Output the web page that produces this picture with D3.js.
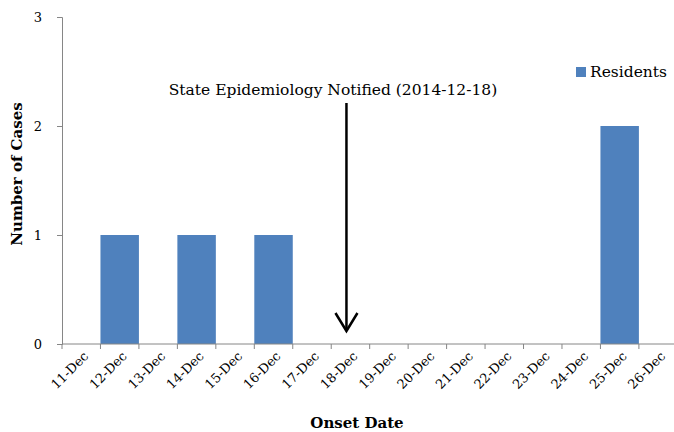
<!DOCTYPE html>
<html>
<head>
<meta charset="utf-8">
<script src="https://cdn.jsdelivr.net/npm/d3@7"></script>
<style>
  body { margin: 0; background: #fff; }
  svg { display: block; }
  svg text { font-family: "DejaVu Serif", serif; }
</style>
</head>
<body>
<div id="chart"></div>
<script>
// data
var dates = ["11-Dec", "12-Dec", "13-Dec", "14-Dec", "15-Dec", "16-Dec", "17-Dec", "18-Dec",
             "19-Dec", "20-Dec", "21-Dec", "22-Dec", "23-Dec", "24-Dec", "25-Dec", "26-Dec"];
var residents = [0, 1, 0, 1, 0, 1, 0, 0, 0, 0, 0, 0, 0, 0, 2, 0];
var yTicks = [0, 1, 2, 3];
var notifiedDate = "18-Dec";
var notifiedLabel = "State Epidemiology Notified (2014-12-18)";

var width = 674, height = 432;
var plotLeft = 62, plotTop = 17, plotBottom = 344;
var step = 38.46;

var svg = d3.select("#chart").append("svg")
            .attr("width", width)
            .attr("height", height);

var x = d3.scaleBand()
          .domain(dates)
          .range([plotLeft, plotLeft + step * dates.length])
          .padding(0);

var y = d3.scaleLinear()
          .domain([0, 3])
          .range([plotBottom, plotTop]);

// bars
svg.append("g").selectAll("rect")
   .data(dates)
   .enter()
      .append("rect")
      .attr("x", function(d) { return x(d); })
      .attr("width", x.bandwidth())
      .attr("y", function(d, i) { return y(residents[i]); })
      .attr("height", function(d, i) { return y(0) - y(residents[i]); })
      .style("fill", "#4F81BD");

// y axis
var yAxis = svg.append("g")
   .attr("transform", "translate(" + plotLeft + ",0)")
   .call(d3.axisLeft(y).tickValues(yTicks).tickFormat(d3.format("d")).tickSize(5).tickPadding(15));
yAxis.select(".domain").attr("stroke", "#868686");
yAxis.selectAll(".tick line").attr("stroke", "#868686");
yAxis.selectAll("text").style("font-size", "13px").attr("fill", "#000");

// x axis: labels at band centres, ticks at band edges
var xAxis = svg.append("g")
   .attr("transform", "translate(0," + plotBottom + ")")
   .call(d3.axisBottom(x).tickSize(0).tickSizeOuter(0));
xAxis.select(".domain").remove();
xAxis.selectAll("text")
     .style("font-size", "13px")
     .attr("fill", "#000")
     .attr("text-anchor", "end")
     .attr("y", 0)
     .attr("dy", 0)
     .attr("transform", "translate(8,13) rotate(-45)");

svg.append("line")
   .attr("x1", plotLeft).attr("x2", width)
   .attr("y1", plotBottom).attr("y2", plotBottom)
   .attr("stroke", "#868686");

svg.append("g").selectAll("line")
   .data(dates)
   .enter()
      .append("line")
      .attr("x1", function(d) { return x(d); })
      .attr("x2", function(d) { return x(d); })
      .attr("y1", plotBottom)
      .attr("y2", plotBottom + 5)
      .attr("stroke", "#868686");

// axis titles
svg.append("text")
   .attr("x", 357).attr("y", 428)
   .attr("text-anchor", "middle")
   .style("font-size", "15px").style("font-weight", "bold")
   .text("Onset Date");

svg.append("text")
   .attr("transform", "translate(22,174) rotate(-90)")
   .attr("text-anchor", "middle")
   .style("font-size", "15px").style("font-weight", "bold")
   .text("Number of Cases");

// annotation arrow
var ax = x(notifiedDate) + x.bandwidth() / 2 - 4;
svg.append("line")
   .attr("x1", ax).attr("x2", ax)
   .attr("y1", 103).attr("y2", 331)
   .attr("stroke", "#000").attr("stroke-width", 2.5);
svg.append("path")
   .attr("d", "M" + (ax - 11) + ",313 L" + ax + ",331 L" + (ax + 11) + ",313")
   .attr("fill", "none").attr("stroke", "#000").attr("stroke-width", 2.5);

svg.append("text")
   .attr("x", 333).attr("y", 95)
   .attr("text-anchor", "middle")
   .style("font-size", "15.5px")
   .text(notifiedLabel);

// legend
svg.append("rect")
   .attr("x", 576).attr("y", 67)
   .attr("width", 10).attr("height", 10)
   .style("fill", "#4F81BD");
svg.append("text")
   .attr("x", 590).attr("y", 77)
   .style("font-size", "15.5px")
   .text("Residents");
</script>
</body>
</html>
